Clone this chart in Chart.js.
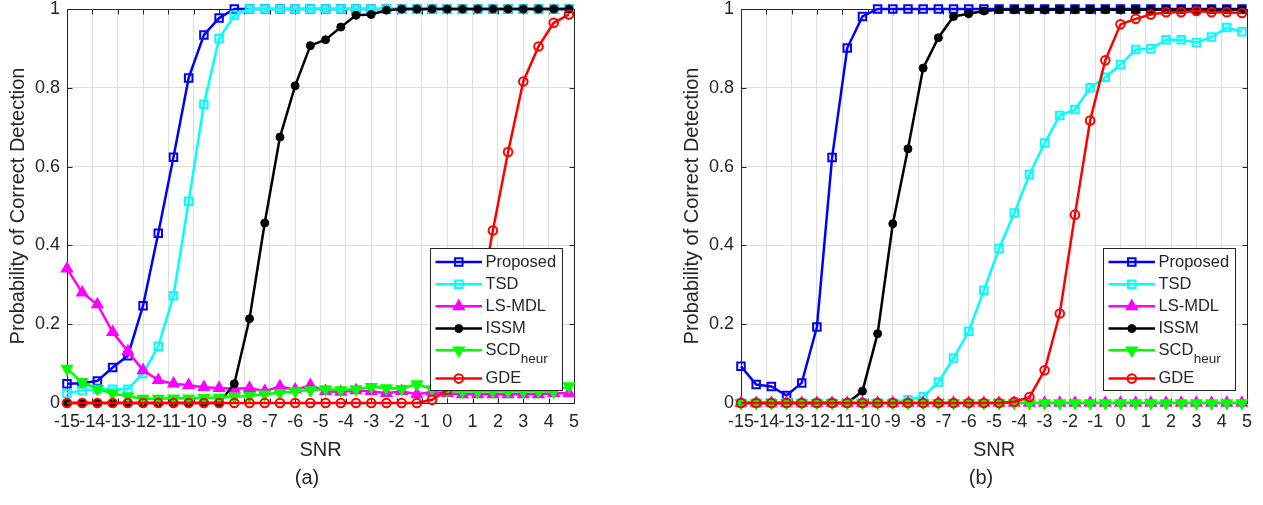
<!DOCTYPE html>
<html>
<head>
<meta charset="utf-8">
<script src="https://cdn.jsdelivr.net/npm/chart.js@4/dist/chart.umd.min.js"></script>
<style>
html,body{margin:0;padding:0;background:#fff;width:1263px;height:505px;overflow:hidden}
#wrap{position:relative;width:1263px;height:505px}
.cell{position:absolute;top:0;height:505px}
canvas{display:block}
</style>
</head>
<body>
<div id="wrap">
  <div class="cell" style="left:0;width:631px"><canvas id="chartA" width="631" height="505"></canvas></div>
  <div class="cell" style="left:631px;width:632px"><canvas id="chartB" width="632" height="505"></canvas></div>
</div>
<script>
// ---------- data ----------
const snr = [-15,-14.4,-13.8,-13.2,-12.6,-12,-11.4,-10.8,-10.2,-9.6,-9,-8.4,-7.8,-7.2,-6.6,-6,-5.4,-4.8,-4.2,-3.6,-3,-2.4,-1.8,-1.2,-0.6,0,0.6,1.2,1.8,2.4,3,3.6,4.2,4.8];
const xTickValues = [-15,-14,-13,-12,-11,-10,-9,-8,-7,-6,-5,-4,-3,-2,-1,0,1,2,3,4,5];
const xTickLabels = ['-15','-14','-13','-12','-11','-10','-9','-8','-7','-6','-5','-4','-3','-2','-1','0','1','2','3','4','5'];
const yTickValues = [0,0.2,0.4,0.6,0.8,1];
const yTickLabels = ['0','0.2','0.4','0.6','0.8','1'];
const seriesNames = ['Proposed','TSD','LS-MDL','ISSM','SCD','GDE'];
const seriesSubs  = ['','','','','heur',''];
const xTitle = 'SNR';
const yTitle = 'Probability of Correct Detection';
const panelLabels = ['(a)','(b)'];

// panel (a)
const proposedA = [0.049,0.050,0.056,0.090,0.120,0.247,0.431,0.624,0.825,0.934,0.977,1,1,1,1,1,1,1,1,1,1,1,1,1,1,1,1,1,1,1,1,1,1,1];
const tsdA      = [0.024,0.032,0.035,0.035,0.035,0.075,0.144,0.272,0.512,0.758,0.925,0.984,1,1,1,1,1,1,1,1,1,1,1,1,1,1,1,1,1,1,1,1,1,1];
const lsmdlA    = [0.341,0.280,0.250,0.180,0.131,0.083,0.058,0.049,0.045,0.040,0.038,0.036,0.038,0.030,0.042,0.034,0.045,0.030,0.028,0.032,0.030,0.025,0.030,0.022,0.028,0.025,0.022,0.022,0.022,0.022,0.022,0.022,0.025,0.025];
const issmA     = [0,0,0,0,0,0,0,0,0,0,0,0.049,0.214,0.457,0.675,0.805,0.907,0.922,0.954,0.984,0.986,0.997,1,1,1,1,1,1,1,1,1,1,1,1];
const scdA      = [0.087,0.053,0.036,0.024,0.017,0.011,0.011,0.012,0.012,0.013,0.014,0.016,0.018,0.022,0.026,0.030,0.033,0.035,0.033,0.035,0.041,0.038,0.036,0.048,0.035,0.030,0.029,0.029,0.030,0.029,0.029,0.030,0.029,0.043];
const gdeA      = [0,0,0,0,0,0,0,0,0,0,0,0,0,0,0,0,0,0,0,0,0,0,0,0,0.008,0.033,0.090,0.220,0.438,0.637,0.816,0.905,0.965,0.986];

// panel (b)
const proposedB = [0.093,0.047,0.042,0.019,0.051,0.193,0.623,0.901,0.981,1,1,1,1,1,1,1,1,1,1,1,1,1,1,1,1,1,1,1,1,1,1,1,1,1];
const tsdB      = [0,0,0,0,0,0,0,0,0,0,0,0.008,0.016,0.053,0.114,0.182,0.286,0.392,0.482,0.580,0.660,0.730,0.745,0.800,0.827,0.859,0.897,0.899,0.922,0.922,0.915,0.929,0.953,0.942];
const lsmdlB    = [0,0,0,0,0,0,0,0,0,0,0,0,0,0,0,0,0,0,0,0,0,0,0,0,0,0,0,0,0,0,0,0,0,0];
const issmB     = [0,0,0,0,0,0,0,0,0.030,0.176,0.455,0.645,0.850,0.927,0.981,0.988,0.995,0.998,0.998,0.998,0.998,0.998,0.998,0.998,0.998,0.998,0.998,0.998,0.998,0.998,0.998,0.998,0.998,0.998];
const scdB      = [0,0,0,0,0,0,0,0,0,0,0,0,0,0,0,0,0,0,0,0,0,0,0,0,0,0,0,0,0,0,0,0,0,0];
const gdeB      = [0,0,0,0,0,0,0,0,0,0,0,0,0,0,0,0,0,0,0.003,0.015,0.083,0.227,0.478,0.717,0.870,0.961,0.975,0.986,0.992,0.992,0.995,0.992,0.992,0.990];

// ---------- styles ----------
const seriesColors = ['#0000ff','#00ffff','#ff00ff','#000000','#00ff00','#ff0000'];
const markerStyles = [
  {pointStyle:'rect', pointRadius:5.3, pointBorderWidth:2, filled:false, pointRotation:0},
  {pointStyle:'rect', pointRadius:5.3, pointBorderWidth:2, filled:false, pointRotation:0},
  {pointStyle:'triangle', pointRadius:6.2, pointBorderWidth:1.5, filled:true, pointRotation:0},
  {pointStyle:'circle', pointRadius:4, pointBorderWidth:1, filled:true, pointRotation:0},
  {pointStyle:'triangle', pointRadius:6.2, pointBorderWidth:1.5, filled:true, pointRotation:180},
  {pointStyle:'circle', pointRadius:4.3, pointBorderWidth:2, filled:false, pointRotation:0}
];
const TEXT = '#262626';
const GRID = '#dedede';
const FONT = "'Liberation Sans', Arial, Helvetica, sans-serif";
Chart.defaults.font.family = FONT;

function drawMarker(ctx, st, color, x, y) {
  ctx.save();
  ctx.strokeStyle = color;
  ctx.fillStyle = st.filled ? color : 'rgba(0,0,0,0)';
  ctx.lineWidth = st.pointBorderWidth;
  Chart.helpers.drawPoint(ctx, {pointStyle: st.pointStyle, rotation: st.pointRotation, radius: st.pointRadius, borderWidth: st.pointBorderWidth}, x, y);
  ctx.restore();
}

const matlabAxes = {
  id: 'matlabAxes',
  beforeDatasetsDraw(chart) {
    const {ctx, chartArea: a, scales} = chart;
    const L = Math.round(a.left) + 0.5, T = Math.round(a.top) + 0.5;
    const R = Math.round(a.right) + 0.5, B = Math.round(a.bottom) + 0.5;
    ctx.save();
    ctx.strokeStyle = TEXT; ctx.lineWidth = 1;
    ctx.beginPath();
    ctx.rect(L, T, R - L, B - T);
    const tl = 5;
    scales.x.ticks.forEach(t => {
      const px = Math.round(scales.x.getPixelForValue(t.value)) + 0.5;
      ctx.moveTo(px, B); ctx.lineTo(px, B - tl);
      ctx.moveTo(px, T); ctx.lineTo(px, T + tl);
    });
    scales.y.ticks.forEach(t => {
      const py = Math.round(scales.y.getPixelForValue(t.value)) + 0.5;
      ctx.moveTo(L, py); ctx.lineTo(L + tl, py);
      ctx.moveTo(R, py); ctx.lineTo(R - tl, py);
    });
    ctx.stroke();
    ctx.restore();
  },
  afterDraw(chart, args, opts) {
    const {ctx, chartArea: a} = chart;
    // legend box
    const bw = 132, bh = 142;
    const bx = Math.round(a.right - 12 - bw), by = Math.round(a.bottom - 13 - bh);
    ctx.save();
    ctx.fillStyle = '#ffffff';
    ctx.fillRect(bx, by, bw, bh);
    ctx.strokeStyle = TEXT; ctx.lineWidth = 1;
    ctx.strokeRect(bx + 0.5, by + 0.5, bw, bh);
    const rows = [14, 36.3, 58.3, 80.6, 102.3, 130.6];
    seriesNames.forEach((name, k) => {
      const yy = by + rows[k];
      ctx.strokeStyle = seriesColors[k];
      ctx.lineWidth = 2.5;
      ctx.beginPath();
      ctx.moveTo(bx + 5.5, yy); ctx.lineTo(bx + 52, yy);
      ctx.stroke();
      drawMarker(ctx, markerStyles[k], seriesColors[k], bx + 28.8, yy);
      ctx.fillStyle = TEXT;
      ctx.textBaseline = 'middle';
      ctx.textAlign = 'left';
      ctx.font = '16.5px ' + FONT;
      ctx.fillText(name, bx + 55.5, yy);
      if (seriesSubs[k]) {
        const w = ctx.measureText(name).width;
        ctx.font = '13.5px ' + FONT;
        ctx.fillText(seriesSubs[k], bx + 55.5 + w + 0.5, yy + 9);
      }
    });
    // panel label
    ctx.fillStyle = TEXT;
    ctx.font = '20px ' + FONT;
    ctx.textAlign = 'center';
    ctx.textBaseline = 'alphabetic';
    ctx.fillText(opts.label, opts.labelX, 484);
    ctx.restore();
  }
};

function buildChart(canvasId, series, padLeft, padRight, label, labelX) {
  const datasets = series.map((vals, k) => ({
    label: seriesNames[k],
    data: vals.map((v, i) => ({x: snr[i], y: v})),
    borderColor: seriesColors[k],
    backgroundColor: seriesColors[k],
    borderWidth: 2.5,
    tension: 0,
    clip: false,
    order: series.length - k,
    pointStyle: markerStyles[k].pointStyle,
    pointRadius: markerStyles[k].pointRadius,
    pointHoverRadius: markerStyles[k].pointRadius,
    pointBorderWidth: markerStyles[k].pointBorderWidth,
    pointRotation: markerStyles[k].pointRotation,
    pointBorderColor: seriesColors[k],
    pointBackgroundColor: markerStyles[k].filled ? seriesColors[k] : 'rgba(0,0,0,0)'
  }));
  return new Chart(document.getElementById(canvasId), {
    type: 'line',
    data: {datasets},
    options: {
      responsive: false,
      animation: false,
      devicePixelRatio: 1,
      events: [],
      layout: {padding: {left: padLeft, right: padRight, top: 9, bottom: 0}},
      plugins: {
        legend: {display: false},
        tooltip: {enabled: false},
        matlabAxes: {label: label, labelX: labelX}
      },
      scales: {
        x: {
          type: 'linear', min: -15, max: 5,
          afterBuildTicks: s => { s.ticks = xTickValues.map(v => ({value: v})); },
          afterFit: s => { s.height = 102; s.paddingLeft = 0; s.paddingRight = 0; },
          ticks: {autoSkip: false, maxRotation: 0, minRotation: 0, padding: 10, color: TEXT,
                  font: {size: 18, lineHeight: 1}, callback: (v, i) => xTickLabels[i]},
          grid: {color: GRID, drawTicks: false, lineWidth: 1},
          border: {display: false},
          title: {display: true, text: xTitle, color: TEXT, font: {size: 20, lineHeight: 1},
                  padding: {top: 0, bottom: 45}}
        },
        y: {
          type: 'linear', min: 0, max: 1,
          afterBuildTicks: s => { s.ticks = yTickValues.map(v => ({value: v})); },
          afterFit: s => { s.width = 67; s.paddingTop = 0; s.paddingBottom = 0; },
          ticks: {padding: 7, color: TEXT, font: {size: 18, lineHeight: 1},
                  callback: (v, i) => yTickLabels[i]},
          grid: {color: GRID, drawTicks: false, lineWidth: 1},
          border: {display: false},
          title: {display: true, text: yTitle, color: TEXT, font: {size: 20, lineHeight: 1},
                  padding: {top: 8, bottom: 0}}
        }
      }
    },
    plugins: [matlabAxes]
  });
}

buildChart('chartA', [proposedA, tsdA, lsmdlA, issmA, scdA, gdeA], 0, 57, panelLabels[0], 307);
buildChart('chartB', [proposedB, tsdB, lsmdlB, issmB, scdB, gdeB], 43, 16, panelLabels[1], 350);
</script>
</body>
</html>
